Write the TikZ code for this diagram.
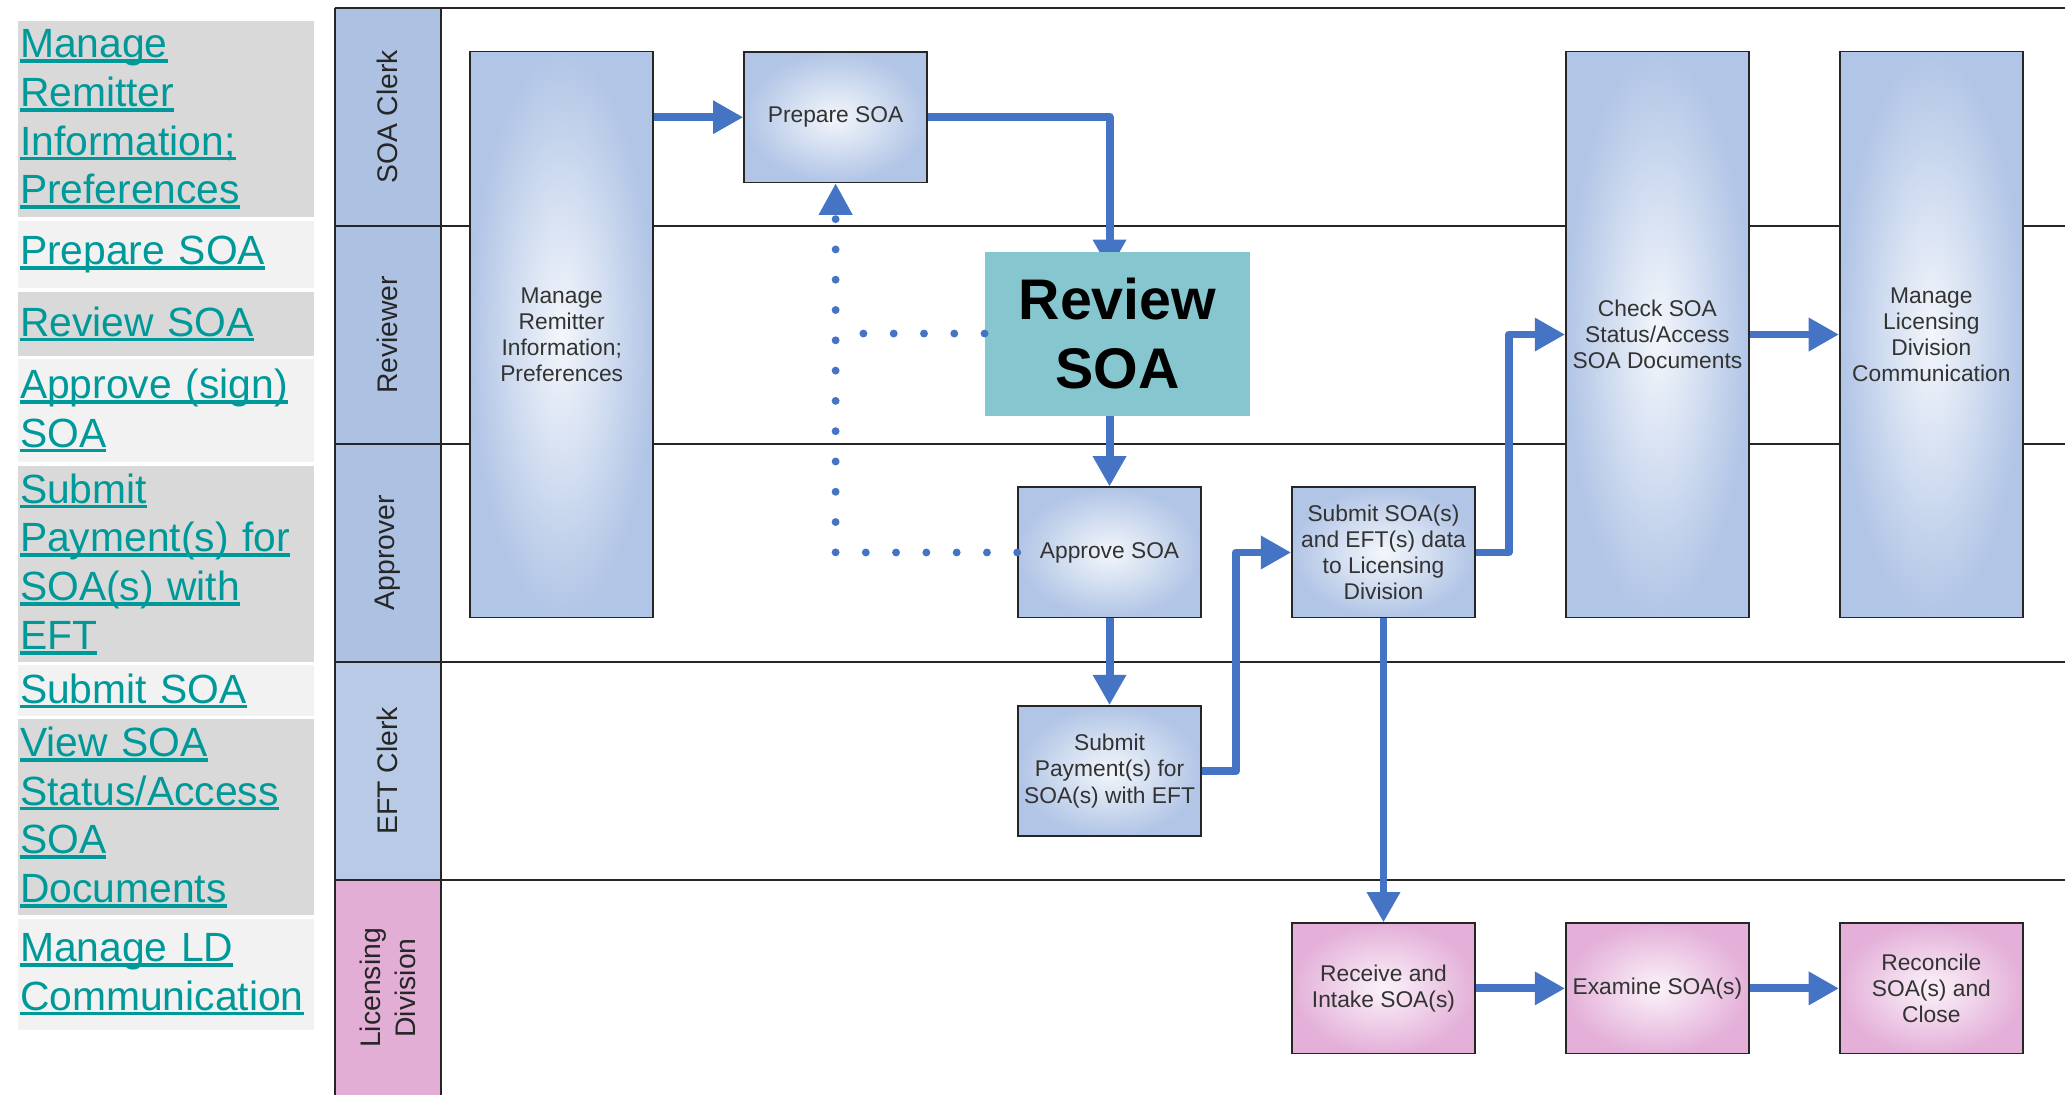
\documentclass[tikz,border=0pt]{standalone}
\usepackage{fontspec}
\setmainfont{Liberation Sans}
\usetikzlibrary{arrows.meta}
\definecolor{lnkteal}{HTML}{009999}
\definecolor{lnkdark}{HTML}{D9D9D9}
\definecolor{lnklight}{HTML}{F2F2F2}
\definecolor{laneblue}{HTML}{ADC2E2}
\definecolor{laneblueb}{HTML}{B8CAE6}
\definecolor{lanepink}{HTML}{E3AED6}
\definecolor{taskblue}{HTML}{B1C5E6}
\definecolor{taskpink}{HTML}{E4B0D9}
\definecolor{flowblue}{HTML}{4674C5}
\definecolor{revteal}{HTML}{86C6CF}
\newsavebox{\lnkline}
\newcommand{\lnk}[1]{\leavevmode\sbox{\lnkline}{#1}\rlap{\rule[-2pt]{\wd\lnkline}{1.4pt}}\usebox{\lnkline}}

\begin{document}
\begin{tikzpicture}[x=0.5pt, y=-0.5pt,
  lnkbox/.style={anchor=west, inner xsep=0.6pt, inner ysep=0pt, text width=111pt, align=left, text=lnkteal, font=\fontsize{15.5}{18.5}\selectfont},
  lanelbl/.style={rotate=90, minimum width=82.75pt, minimum height=40.5pt, inner sep=0pt, align=center, text=black!85, font=\fontsize{10.75}{13}\selectfont},
  laneline/.style={draw=black!85, line width=0.75pt},
  task/.style={draw=black!85, line width=0.6pt, inner color=taskblue!15!white, outer color=taskblue, minimum width=69.5pt, minimum height=49.5pt, inner sep=1pt, align=center, text=black!80, font=\fontsize{8.65}{9.9}\selectfont},
  talltask/.style={task, minimum height=215pt},
  ldtask/.style={task, inner color=taskpink!15!white, outer color=taskpink},
  revbox/.style={fill=revteal, minimum width=100.5pt, minimum height=62.25pt, inner sep=0pt, align=center, font=\bfseries\fontsize{21.75}{26.3}\selectfont},
  flow/.style={draw=flowblue, line width=3pt, line join=round, -{Triangle[length=11.5pt, width=12pt]}},
  backdots/.style={draw=flowblue, line width=3pt, line cap=round, dash pattern=on 0pt off 11.5pt}]
\useasboundingbox (0,0) rectangle (1568,831);

\node[lnkbox, fill=lnkdark, minimum height=74.3pt] (lmanage) at (13.6,90.6) {\lnk{Manage}\\\lnk{Remitter}\\\lnk{Information;}\\\lnk{Preferences}};
\node[lnkbox, fill=lnklight, minimum height=25.5pt] (lprepare) at (13.6,193.5) {\lnk{Prepare SOA}};
\node[lnkbox, fill=lnkdark, minimum height=24pt] (lreview) at (13.6,246) {\lnk{Review SOA}};
\node[lnkbox, fill=lnklight, minimum height=39.2pt] (lapprove) at (13.6,311.8) {\lnk{Approve (sign)}\\\lnk{SOA}};
\node[lnkbox, fill=lnkdark, minimum height=74.3pt] (lpay) at (13.6,428.3) {\lnk{Submit}\\\lnk{Payment(s) for}\\\lnk{SOA(s) with}\\\lnk{EFT}};
\node[lnkbox, fill=lnklight, minimum height=19.4pt] (lsubmit) at (13.6,524.6) {\lnk{Submit SOA}};
\node[lnkbox, fill=lnkdark, minimum height=74.35pt] (lview) at (13.6,620.65) {\lnk{View SOA}\\\lnk{Status/Access}\\\lnk{SOA}\\\lnk{Documents}};
\node[lnkbox, fill=lnklight, minimum height=42.1pt] (lld) at (13.6,739.9) {\lnk{Manage LD}\\\lnk{Communication}};

\node[lanelbl, fill=laneblue] (soaclerk) at (294.5,88.75) {SOA Clerk};
\node[lanelbl, fill=laneblue] (reviewer) at (294.5,254.25) {Reviewer};
\node[lanelbl, fill=laneblue] (approver) at (294.5,419.75) {Approver};
\node[lanelbl, fill=laneblueb, minimum width=82.95pt] (eftclerk) at (294.5,585.45) {EFT Clerk};
\node[lanelbl, fill=lanepink, minimum width=81.8pt] (licensing) at (294.5,750.2) {Licensing\\Division};

\draw[laneline] (254,6) -- (1568,6);
\draw[laneline] (254,171.5) -- (1568,171.5);
\draw[laneline] (254,337) -- (1568,337);
\draw[laneline] (254,502.5) -- (1568,502.5);
\draw[laneline] (254,668.4) -- (1568,668.4);
\draw[laneline] (254,6) -- (254,832);
\draw[laneline] (335,6) -- (335,832);

\node[talltask] (remit) at (426.5,254) {Manage\\Remitter\\Information;\\Preferences};
\node[task] (prep) at (634.5,89) {Prepare SOA};
\node[task] (approve) at (842.5,419.5) {Approve SOA};
\node[task] (pay) at (842.5,585.5) {Submit\\Payment(s) for\\SOA(s) with EFT};
\node[task] (submit) at (1050.5,419.5) {Submit SOA(s)\\and EFT(s) data\\to Licensing\\Division};
\node[talltask] (check) at (1258.5,254) {Check SOA\\Status/Access\\SOA Documents};
\node[talltask] (manageld) at (1466.5,254) {Manage\\Licensing\\Division\\Communication};
\node[ldtask] (receive) at (1050.5,750.5) {Receive and\\Intake SOA(s)};
\node[ldtask] (examine) at (1258.5,750.5) {Examine SOA(s)};
\node[ldtask] (reconcile) at (1466.5,750.5) {Reconcile\\SOA(s) and\\Close};

\coordinate (revin) at (842.5,205);
\draw[flow] (remit.east |- prep.west) -- (prep.west);
\draw[flow] (prep.east) -| (revin);
\draw[flow] (approve.south) -- (pay.north);
\draw[flow] (pay.east) -- ++(26,0) |- (submit.west);
\draw[flow] (submit.east) -- ++(25,0) |- (check.west);
\draw[flow] (check.east) -- (manageld.west);
\draw[flow] (submit.south) -- (receive.north);
\draw[flow] (receive.east) -- (examine.west);
\draw[flow] (examine.east) -- (reconcile.west);
\draw[backdots, -{Triangle[length=12pt, width=12pt]}] (approve.west) -| (prep.south);

\node[revbox] (review) at (848.5,253.25) {Review\\SOA};
\draw[flow] (review.south -| approve.north) -- (approve.north);
\draw[backdots] (review.west) -- (review.west -| prep.south);
\end{tikzpicture}
\end{document}
